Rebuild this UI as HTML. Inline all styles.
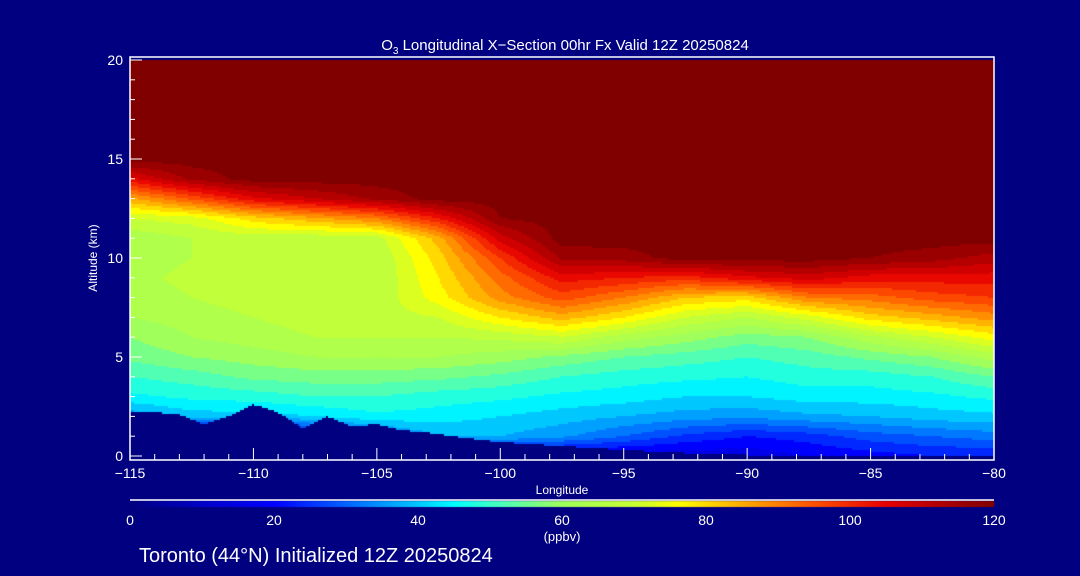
<!DOCTYPE html>
<html><head><meta charset="utf-8"><style>
html,body{margin:0;padding:0;background:#000080;}
#wrap{position:relative;width:1080px;height:576px;background:#000080;overflow:hidden;font-family:"Liberation Sans",sans-serif;color:#fff;}
canvas{position:absolute;left:0;top:0;}
svg{position:absolute;left:0;top:0;}
</style></head><body>
<div id="wrap">
<canvas id="cv" width="1080" height="576"></canvas>
<svg id="sv" width="1080" height="576"></svg>
</div>
<script>
const lons=[-115,-112.5,-110,-107.5,-105,-102.5,-100,-97.5,-95,-92.5,-90,-87.5,-85,-82.5,-80];
const alts=[0,1,2,3,4,5,6,7,8,9,10,11,12,13,14,15,20];
const ozone=[
[0,0,35,45,50,55,58,62,64,65,64,63,70,85,105,120,120],
[0,0,40,47,52,58,62,64,66,67,66,66,72,95,115,120,120],
[0,0,40,48,55,60,64,66,68,68,67,68,80,105,120,120,120],
[0,20,42,50,56,62,66,68,68,67,66,67,85,110,120,120,120],
[0,30,45,50,56,62,66,68,67,66,66,68,90,115,120,120,120],
[10,38,44,48,55,62,66,70,76,78,80,84,102,120,120,120,120],
[15,38,42,47,53,60,67,78,88,92,98,108,118,120,120,120,120],
[15,35,40,45,50,57,70,84,96,104,115,120,120,120,120,120,120],
[15,30,38,44,48,54,64,78,90,102,116,120,120,120,120,120,120],
[15,25,36,42,47,52,60,70,82,100,120,120,120,120,120,120,120],
[15,22,35,42,46,50,56,66,80,105,120,120,120,120,120,120,120],
[18,24,37,44,48,52,58,72,90,108,120,120,120,120,120,120,120],
[20,28,38,44,48,55,65,80,92,104,118,120,120,120,120,120,120],
[22,30,40,45,50,58,70,84,96,104,116,120,120,120,120,120,120],
[22,32,41,47,54,64,76,88,98,104,112,120,120,120,120,120,120]];
const terrainLons=[-115,-114,-113,-112,-111,-110,-109,-108,-107,-106,-105,-104,-103,-102,-100,-97.5,-95,-92.5,-90,-85,-80];
const terrainAlt=[2.2,2.2,2.1,1.6,2.0,2.6,2.2,1.4,2.0,1.5,1.6,1.3,1.2,1.0,0.7,0.5,0.3,0.15,0.05,0,0];
const xTicks=[-115,-110,-105,-100,-95,-90,-85,-80];
const yTicks=[0,5,10,15,20];
const cbTicks=[0,20,40,60,80,100,120];
const cmapVals=[0,10,20,30,40,45,52,60,70,76,85,95,105,115,120];
const cmapCols=[[0,0,128],[0,0,200],[0,0,255],[0,100,255],[0,200,255],[0,255,255],[80,255,180],[160,255,90],[200,255,50],[255,255,0],[255,170,0],[255,80,0],[230,0,0],[160,0,0],[128,0,0]];

const X0=130,X1=994,Y0=456,Y1=60;
const xs=l=>X0+(l+115)/35*(X1-X0);
const ys=a=>Y0-a/20*(Y0-Y1);
function cm(v){
  for(let i=1;i<cmapVals.length;i++){if(v<=cmapVals[i]){const t=(v-cmapVals[i-1])/(cmapVals[i]-cmapVals[i-1]);const a=cmapCols[i-1],b=cmapCols[i];return `rgb(${a.map((c,k)=>Math.round(c+(b[k]-c)*t)).join(',')})`;}}
  return 'rgb(128,0,0)';
}
function col(v){return cm(Math.max(0,Math.min(120,Math.round(v/4)*4)));}
function interp(arr,x){
  if(x<=arr[0])return [0,0];
  for(let i=1;i<arr.length;i++){if(x<=arr[i])return [i-1,(x-arr[i-1])/(arr[i]-arr[i-1])];}
  return [arr.length-2,1];
}
function field(lon,alt){
  const [i,tx]=interp(lons,lon),[j,ty]=interp(alts,alt);
  const a=ozone[i][j],b=ozone[i+1][j],c=ozone[i][j+1],d=ozone[i+1][j+1];
  return (a*(1-tx)+b*tx)*(1-ty)+(c*(1-tx)+d*tx)*ty;
}
function terr(lon){const [i,t]=interp(terrainLons,lon);return terrainAlt[i]*(1-t)+terrainAlt[i+1]*t;}
const cv=document.getElementById('cv'),ctx=cv.getContext('2d');
for(let px=X0;px<X1;px+=2){
  const lon=-115+(px+1-X0)/(X1-X0)*35;const tg=terr(lon);
  for(let py=Y1;py<Y0;py+=2){
    const alt=(Y0-(py+1))/(Y0-Y1)*20;
    ctx.fillStyle=alt<tg?'#000080':col(field(lon,alt));
    ctx.fillRect(px,py,2,2);
  }
}
for(let px=X0;px<X1;px++){const v=(px-X0)/(X1-X0)*120;ctx.fillStyle=cm(v);ctx.fillRect(px,501,1,6);}

const NS='http://www.w3.org/2000/svg',sv=document.getElementById('sv');
function mk(tag,attrs,name,text){const e=document.createElementNS(NS,tag);for(const k in attrs)e.setAttribute(k,attrs[k]);


if(text!==undefined)e.textContent=text;sv.appendChild(e);return e;}
mk('rect',{x:X0,y:57,width:X1-X0,height:403,fill:'none',stroke:'#fff','stroke-width':1.5},'plot-frame');
for(let l=-115;l<=-80;l++){const big=l%5===0;mk('line',{x1:xs(l),x2:xs(l),y1:460,y2:big?448:454,stroke:'#fff','stroke-width':1},'x-tick');}
for(let a=0;a<=20;a++){const big=a%5===0;mk('line',{x1:X0,x2:X0+(big?12:5),y1:ys(a),y2:ys(a),stroke:'#fff','stroke-width':1},'y-tick');}
xTicks.forEach(t=>mk('text',{x:xs(t),y:478,'text-anchor':'middle','font-size':14,fill:'#fff'},'x-tick-label',t<0?'\u2212'+(-t):t));
yTicks.forEach(t=>mk('text',{x:123,y:ys(t)+5,'text-anchor':'end','font-size':14,fill:'#fff'},'y-tick-label',t));
mk('text',{x:562,y:494,'text-anchor':'middle','font-size':12,fill:'#fff'},'x-axis-title','Longitude');
mk('text',{x:97,y:258,'text-anchor':'middle','font-size':12,fill:'#fff',transform:'rotate(-90 97 258)'},'y-axis-title','Altitude (km)');
const ti=mk('text',{x:565,y:50,'text-anchor':'middle','font-size':15,fill:'#fff'},'chart-title','');
ti.innerHTML='O<tspan font-size="10" dy="4">3</tspan><tspan dy="-4"> Longitudinal X\u2212Section 00hr  Fx Valid 12Z 20250824</tspan>';
mk('line',{x1:X0,x2:X1,y1:500,y2:500,stroke:'#fff','stroke-width':1.5},'colorbar-line');
cbTicks.forEach(t=>mk('text',{x:X0+t/120*(X1-X0),y:525,'text-anchor':'middle','font-size':14,fill:'#fff'},'colorbar-label',t));
mk('text',{x:562,y:541,'text-anchor':'middle','font-size':13,fill:'#fff'},'colorbar-units','(ppbv)');
mk('text',{x:139,y:562,'font-size':20,fill:'#fff'},'footer-text','Toronto (44\u00B0N) Initialized 12Z 20250824');
</script>
</body></html>
